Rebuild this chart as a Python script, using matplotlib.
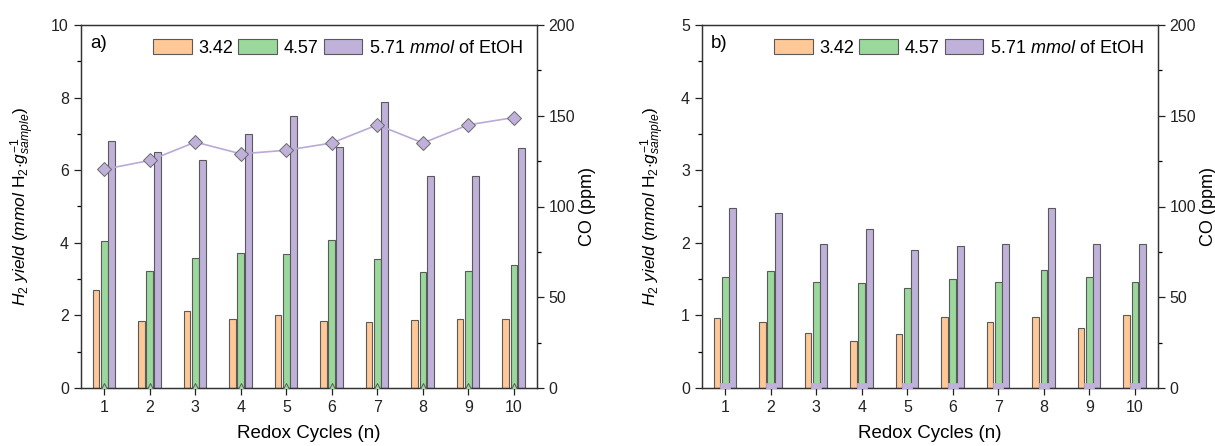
import numpy as np
import matplotlib
matplotlib.use("Agg")
import matplotlib.pyplot as plt
from matplotlib.patches import Patch
from matplotlib.ticker import MultipleLocator

plt.rcParams['font.family'] = ['Liberation Sans', 'DejaVu Sans']
plt.rcParams['mathtext.fontset'] = 'custom'
plt.rcParams['mathtext.rm'] = 'Liberation Sans'
plt.rcParams['mathtext.it'] = 'Liberation Sans:italic'
plt.rcParams['mathtext.bf'] = 'Liberation Sans:bold'

cycles = [1, 2, 3, 4, 5, 6, 7, 8, 9, 10]
series_labels = ['3.42', '4.57', '5.71 $mmol$ of EtOH']

# Panel a
a_h2_342 = [2.71, 1.84, 2.12, 1.89, 2.00, 1.84, 1.82, 1.88, 1.89, 1.91]
a_h2_457 = [4.05, 3.22, 3.59, 3.72, 3.70, 4.08, 3.55, 3.19, 3.22, 3.40]
a_h2_571 = [6.80, 6.51, 6.27, 6.99, 7.48, 6.65, 7.88, 5.85, 5.85, 6.62]
a_co_571 = [120.5, 125.4, 135.5, 129, 131, 135, 145, 135, 145, 149]
a_co_457 = [0, 0, 0, 0, 0, 0, 0, 0, 0, 0]

# Panel b
b_h2_342 = [0.96, 0.91, 0.76, 0.65, 0.74, 0.98, 0.91, 0.98, 0.83, 1.00]
b_h2_457 = [1.53, 1.61, 1.46, 1.44, 1.38, 1.50, 1.46, 1.62, 1.53, 1.46]
b_h2_571 = [2.48, 2.41, 1.99, 2.19, 1.90, 1.95, 1.99, 2.48, 1.99, 1.99]
b_co_571 = [0, 0, 0, 0, 0, 0, 0, 0, 0, 0]

c_or = '#FFC896'
c_gr = '#9BD89B'
c_pu = '#BFB1D9'
c_edge = '#5a5a5a'
c_line = '#B9AAD6'

W, H = 1215, 446
fig = plt.figure(figsize=(W / 100, H / 100), dpi=100)

ylabel = r'$H_2\ yield\ (mmol$ H$_2$$\cdot g^{\mathit{-1}}_{sample})$'

def panel(left, h2s, ymax, ymajor, yminor, tag, co_lines):
    ax = fig.add_axes([left / W, 1 - 388 / H, 456 / W, (388 - 25) / H])
    x = np.array(cycles, dtype=float)
    offs = [-0.185, 0.0, 0.16]
    cols = [c_or, c_gr, c_pu]
    for vals, o, c in zip(h2s, offs, cols):
        ax.bar(x + o, vals, width=0.15, color=c, edgecolor=c_edge, linewidth=0.8, zorder=2)
    ax.set_xlim(0.48, 10.5)
    ax.set_ylim(0, ymax)
    ax.set_xticks(cycles)
    ax.yaxis.set_major_locator(MultipleLocator(ymajor))
    ax.yaxis.set_minor_locator(MultipleLocator(yminor))
    ax.tick_params(axis='both', labelsize=11.5, direction='out', length=5, width=0.9, colors='#222222')
    ax.tick_params(axis='y', which='minor', length=3, width=0.9)
    for s in ax.spines.values():
        s.set_linewidth(0.9)
        s.set_color('#333333')
    ax.set_xlabel('Redox Cycles (n)', fontsize=13.5, labelpad=7)
    ax.set_ylabel(ylabel, fontsize=12.5, labelpad=10)

    ax2 = ax.twinx()
    ax2.set_ylim(0, 200)
    ax2.yaxis.set_major_locator(MultipleLocator(50))
    ax2.yaxis.set_minor_locator(MultipleLocator(25))
    ax2.tick_params(axis='y', labelsize=11.5, direction='out', length=5, width=0.9, colors='#222222')
    ax2.tick_params(axis='y', which='minor', length=3, width=0.9)
    for s in ax2.spines.values():
        s.set_linewidth(0.9)
        s.set_color('#333333')
    ax2.set_ylabel('CO (ppm)', fontsize=13, labelpad=3)
    for vals, kw in co_lines:
        ax2.plot(x, vals, **kw)

    handles = [Patch(facecolor=c, edgecolor=c_edge, linewidth=0.8) for c in cols]
    ax.legend(handles, series_labels, loc='upper right', ncol=3, frameon=False,
              fontsize=13, handlelength=2.15, handleheight=0.88, handletextpad=0.35,
              columnspacing=0.3, bbox_to_anchor=(1.0, 1.0), borderaxespad=0.4)
    ax.text(0.02, 0.95, tag, transform=ax.transAxes, fontsize=13.5, va='center', ha='left')
    return ax, ax2

panel(80.7, [a_h2_342, a_h2_457, a_h2_571], 10, 2, 1, 'a)',
      [(a_co_457, dict(linestyle='none', marker='^', markersize=7, markerfacecolor=c_gr,
                       markeredgecolor=c_edge, markeredgewidth=0.7, zorder=3)),
       (a_co_571, dict(color=c_line, linewidth=1.2, marker='D', markersize=7.5,
                       markerfacecolor=c_pu, markeredgecolor='#6a6a6a', markeredgewidth=0.7, zorder=3))])

panel(701.7, [b_h2_342, b_h2_457, b_h2_571], 5, 1, 0.5, 'b)',
      [(b_co_571, dict(linestyle='none', marker='s', markersize=7, markerfacecolor=c_pu,
                       markeredgecolor=c_pu, markeredgewidth=0.5, zorder=3))])

fig.savefig('out.png', dpi=100)
